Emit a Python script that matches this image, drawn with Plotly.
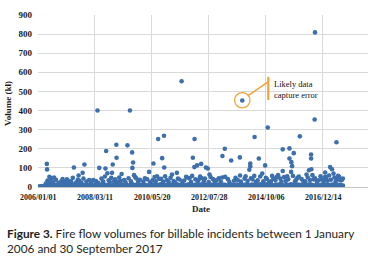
import plotly.graph_objects as go

# ---------------- data ----------------
years = [2006, 2007, 2008, 2009, 2010, 2011, 2012, 2013, 2014, 2015, 2016, 2017]

# dense band of everyday incidents, one low and one higher value per month
band_low = [
    1, 2, 1, 2, 3, 4, 2, 3, 5, 3, 2, 4,
    3, 5, 2, 4, 3, 2, 4, 5, 3, 2, 4, 3,
    4, 2, 3, 5, 3, 4, 2, 3, 4, 5, 3, 2,
    3, 4, 5, 2, 3, 4, 3, 5, 2, 4, 3, 4,
    2, 3, 4, 3, 5, 2, 4, 3, 3, 4, 2, 5,
    4, 3, 2, 4, 3, 5, 3, 2, 4, 3, 4, 2,
    3, 5, 4, 2, 3, 4, 5, 3, 2, 4, 3, 3,
    4, 2, 3, 5, 4, 3, 2, 4, 5, 3, 4, 2,
    3, 4, 2, 3, 5, 4, 3, 2, 4, 3, 5, 4,
    2, 3, 4, 5, 3, 2, 4, 3, 4, 5, 3, 2,
    4, 3, 5, 2, 3, 4, 3, 5, 2, 4, 3, 4,
    3, 2, 4, 3, 5, 4, 3, 2, 4,
]
band_high = [
    3, 4, 4, 6, 12, 10, 14, 9, 12, 8, 11, 13,
    10, 13, 8, 11, 14, 9, 12, 13, 8, 10, 13, 10,
    11, 8, 13, 10, 9, 14, 12, 10, 13, 8, 11, 13,
    9, 12, 14, 10, 13, 8, 11, 14, 10, 13, 9, 12,
    13, 10, 8, 13, 10, 14, 9, 12, 14, 10, 11, 8,
    10, 13, 11, 9, 13, 10, 14, 8, 12, 14, 10, 9,
    13, 9, 12, 14, 10, 11, 8, 13, 10, 9, 13, 12,
    10, 13, 10, 8, 14, 12, 9, 13, 11, 14, 10, 13,
    12, 8, 13, 10, 9, 13, 14, 10, 11, 14, 9, 12,
    9, 13, 11, 14, 10, 8, 13, 10, 14, 12, 9, 13,
    11, 10, 14, 9, 13, 14, 10, 8, 13, 10, 12, 14,
    10, 13, 9, 13, 11, 14, 10, 12, 8,
]
n_months = len(band_low)
band_low_dates = [f"{y}-{m:02d}-06" for y in years for m in range(1, 13)][:n_months]
band_high_dates = [f"{y}-{m:02d}-21" for y in years for m in range(1, 13)][:n_months]

# ragged top of the band (roughly 20-60 kl)
mid_dates = [
    "2006-04-20", "2006-05-15", "2006-06-20", "2006-07-10", "2006-08-02", "2006-09-10",
    "2006-10-18", "2006-11-25", "2006-12-12",
    "2007-01-15", "2007-02-22", "2007-03-18", "2007-04-10", "2007-05-05", "2007-06-22",
    "2007-07-14", "2007-08-05", "2007-09-03", "2007-10-01", "2007-11-12", "2007-12-20",
    "2008-01-20", "2008-02-15", "2008-03-25", "2008-04-28", "2008-06-10", "2008-07-05",
    "2008-07-28", "2008-09-20", "2008-10-05", "2008-10-25", "2008-12-05", "2008-12-18",
    "2009-01-25", "2009-02-14", "2009-03-05", "2009-04-25", "2009-05-15", "2009-06-25",
    "2009-07-28", "2009-09-25", "2009-10-12", "2009-11-08", "2009-12-01",
    "2010-01-20", "2010-02-10", "2010-03-15", "2010-04-25", "2010-05-28", "2010-06-25",
    "2010-07-12", "2010-08-28", "2010-09-25", "2010-10-22", "2010-11-20", "2010-12-15",
    "2011-01-10", "2011-02-05", "2011-03-20", "2011-04-12", "2011-05-20", "2011-06-10",
    "2011-07-22", "2011-08-15", "2011-09-25", "2011-10-28", "2011-11-20", "2011-12-05",
    "2012-01-20", "2012-02-25", "2012-03-05", "2012-03-25", "2012-05-18", "2012-06-02",
    "2012-07-25", "2012-08-20", "2012-09-22", "2012-10-15", "2012-11-08", "2012-12-12",
    "2013-01-10", "2013-01-28", "2013-04-20", "2013-05-10", "2013-07-15", "2013-08-05",
    "2013-09-05", "2013-10-20", "2013-12-10", "2013-12-25",
    "2014-01-22", "2014-03-10", "2014-03-30", "2014-05-15", "2014-06-12", "2014-07-18",
    "2014-08-30", "2014-10-05", "2014-10-20", "2014-11-20", "2014-12-15",
    "2015-01-20", "2015-02-18", "2015-03-25", "2015-04-25", "2015-05-12", "2015-06-18",
    "2015-07-10", "2015-08-15", "2015-10-20", "2015-11-18", "2015-12-05", "2015-12-22",
    "2016-01-10", "2016-02-20", "2016-03-15", "2016-04-10", "2016-05-15", "2016-06-15",
    "2016-07-20", "2016-08-05", "2016-08-25", "2016-09-20", "2016-10-15", "2016-11-10",
    "2016-12-01", "2016-12-25",
    "2017-01-28", "2017-02-15", "2017-03-10", "2017-04-05", "2017-05-25", "2017-06-10",
    "2017-06-25", "2017-07-15", "2017-08-12", "2017-09-05", "2017-09-20",
]
mid_vols = [
    18, 34, 28, 45, 24, 38, 22, 30, 41,
    26, 35, 20, 30, 48, 25, 38, 33, 22, 44, 29, 36,
    24, 36, 31, 22, 44, 28, 55, 35, 26, 48, 30, 40,
    27, 50, 33, 37, 24, 46, 30, 52, 45, 28, 38,
    29, 46, 40, 24, 35, 52, 30, 42, 43, 28, 56, 36,
    26, 48, 31, 24, 44, 39, 28, 34, 50, 45, 26, 58,
    40, 32, 38, 55, 30, 44, 26, 52, 42, 28, 35, 46,
    29, 50, 41, 26, 33, 48, 37, 28, 44, 56,
    31, 46, 40, 26, 35, 55, 30, 48, 42, 26, 30,
    44, 36, 62, 44, 28, 52, 32, 40, 58, 30, 38, 48,
    55, 41, 28, 30, 50, 36, 62, 40, 45, 28, 35, 56,
    40, 30,
    46, 33, 60, 38, 50, 28, 42, 58, 35, 36, 44,
]

# isolated larger incidents
high_dates = [
    "2006-05-05", "2006-05-08", "2006-06-10", "2006-08-15", "2007-02-10", "2007-05-20",
    "2007-07-25", "2007-09-20", "2007-10-15", "2008-04-15", "2008-05-10", "2008-08-05",
    "2008-08-15", "2008-09-01", "2008-11-05", "2008-11-15", "2009-01-05", "2009-01-08",
    "2009-03-20", "2009-06-10", "2009-07-15", "2009-08-15", "2009-08-28", "2009-08-18",
    "2009-09-10", "2010-04-10", "2010-06-10", "2010-07-30", "2010-08-15", "2010-10-10",
    "2010-11-05", "2010-11-08", "2011-02-25", "2011-05-05", "2011-07-10", "2011-09-12",
    "2011-12-15", "2012-01-05", "2012-01-08", "2012-02-12", "2012-04-10", "2012-04-12",
    "2012-06-15", "2012-07-12", "2012-08-05", "2013-02-02", "2013-03-08", "2013-03-12",
    "2013-06-05", "2013-10-05", "2013-10-08", "2013-11-08", "2014-02-15", "2014-02-28",
    "2014-02-28", "2014-04-25", "2014-04-30", "2014-06-28", "2014-08-15", "2014-09-25",
    "2014-11-01", "2015-01-01", "2015-03-08", "2015-05-30", "2015-05-30", "2015-08-01",
    "2015-09-01", "2015-09-01", "2015-09-25", "2015-09-28", "2015-10-08", "2015-11-01",
    "2016-01-25", "2016-04-28", "2016-06-01", "2016-07-01", "2016-07-01", "2016-07-05",
    "2016-08-20", "2016-08-25", "2017-01-15", "2017-01-15", "2017-03-25", "2017-04-20",
    "2017-05-12", "2017-06-22", "2017-07-30",
]
high_vols = [
    121, 92, 53, 50, 40, 102, 60, 74, 118, 400, 100, 97, 188, 72, 74, 118, 221, 153,
    68, 218, 400, 181, 128, 100, 62, 79, 123, 56, 251, 151, 268, 102, 65, 74, 553, 53,
    153, 104, 251, 113, 121, 47, 102, 97, 65, 162, 200, 53, 139, 155, 60, 453, 90, 109,
    123, 58, 262, 149, 70, 113, 311, 58, 53, 197, 84, 56, 202, 149, 79, 130, 109, 177,
    265, 65, 88, 170, 149, 93, 353, 809, 76, 53, 104, 93, 70, 234, 53,
]

flag_date = "2013-11-08"
flag_value = 453

y_ticks = [0, 100, 200, 300, 400, 500, 600, 700, 800, 900]
x_tick_dates = ["2006-01-01", "2008-03-11", "2010-05-20", "2012-07-28", "2014-10-06", "2016-12-14"]
x_tick_labels = ["2006/01/01", "2008/03/11", "2010/05/20", "2012/07/28", "2014/10/06", "2016/12/14"]

# ---------------- figure ----------------
all_dates = band_low_dates + band_high_dates + mid_dates + high_dates
all_vols = band_low + band_high + mid_vols + high_vols

blue = "#3c6fab"
orange = "#f2a33a"
serif = "Liberation Serif"
tick_font = dict(family=serif, size=8, color="#1a1a1a", weight="bold")

fig = go.Figure()
fig.add_trace(go.Scatter(
    x=all_dates, y=all_vols, mode="markers",
    marker=dict(size=4.6, color=blue, line=dict(width=0)),
    showlegend=False, hoverinfo="skip",
))

W, H = 368, 259
L, R, T, B = 38, 0, 15, 72

fig.update_layout(
    width=W, height=H,
    margin=dict(l=L, r=R, t=T, b=B, pad=0),
    paper_bgcolor="white", plot_bgcolor="white",
    showlegend=False,
    xaxis=dict(
        type="date",
        range=["2006-01-01", "2018-09-08"],
        tickvals=x_tick_dates,
        showticklabels=False,
        showgrid=True, gridcolor="#d9d9d9", gridwidth=1,
        showline=True, linecolor="#c4c4c4", linewidth=1.3,
        zeroline=False, ticks="",
    ),
    yaxis=dict(
        range=[0, 900], tickvals=y_ticks,
        showgrid=True, gridcolor="#d9d9d9", gridwidth=1,
        showline=False, zeroline=False, ticks="",
        tickfont=dict(family=serif, size=9, color="#1a1a1a", weight="bold"),
        ticklabelstandoff=5,
    ),
)

plot_w = W - L - R
plot_h = H - T - B


def px_x(x):
    return (x - L) / plot_w


def px_y(y):
    return (H - B - y) / plot_h


# x tick labels: first one sits on the left edge of the plot, the rest at their dates
fig.add_annotation(x=0, y=0, xref="paper", yref="paper", text=x_tick_labels[0],
                   showarrow=False, xanchor="center", yanchor="middle", yshift=-10,
                   font=tick_font)
for d, lab in zip(x_tick_dates[1:], x_tick_labels[1:]):
    fig.add_annotation(x=d, y=0, xref="x", yref="paper", text=lab, showarrow=False,
                       xanchor="center", yanchor="middle", yshift=-10,
                       font=tick_font)

# circle + leader around suspicious point
fig.add_shape(type="circle", xref="x", yref="y", xsizemode="pixel", ysizemode="pixel",
              xanchor=flag_date, yanchor=flag_value,
              x0=-7.7, x1=7.7, y0=-7.5, y1=7.9,
              line=dict(color=orange, width=1.3))
fig.add_shape(type="line", xref="x", yref="y", xsizemode="pixel", ysizemode="pixel",
              xanchor=flag_date, yanchor=flag_value,
              x0=5.5, x1=25, y0=4.5, y1=18,
              line=dict(color=orange, width=1.6))
fig.add_shape(type="line", xref="x", yref="y", xsizemode="pixel", ysizemode="pixel",
              xanchor=flag_date, yanchor=flag_value,
              x0=26, x1=26, y0=0.5, y1=23.5,
              line=dict(color=orange, width=2.2))
fig.add_annotation(x=flag_date, y=flag_value, xref="x", yref="y",
                   text="Likely data<br>capture error", showarrow=False,
                   xanchor="left", yanchor="middle", align="left",
                   xshift=30, yshift=11,
                   font=dict(family=serif, size=8.5, color="#111111"))

# axis titles
fig.add_annotation(x=px_x(8), y=px_y(104), xref="paper", yref="paper",
                   text="Volume (kl)", textangle=-90, showarrow=False,
                   xanchor="center", yanchor="middle",
                   font=dict(family=serif, size=9, color="#1a1a1a", weight="bold"))
fig.add_annotation(x=px_x(201), y=px_y(209), xref="paper", yref="paper",
                   text="Date", showarrow=False, xanchor="center", yanchor="middle",
                   font=dict(family=serif, size=9, color="#1a1a1a", weight="bold"))

# caption
cap_font = dict(family="Lato", size=11.8, color="#231f20")
fig.add_annotation(x=px_x(5), y=px_y(233), xref="paper", yref="paper",
                   text="<b>Figure 3.</b> Fire flow volumes for billable incidents between 1 January",
                   showarrow=False, xanchor="left", yanchor="middle", font=cap_font)
fig.add_annotation(x=px_x(5), y=px_y(248), xref="paper", yref="paper",
                   text="2006 and 30 September 2017",
                   showarrow=False, xanchor="left", yanchor="middle", font=cap_font)

fig.write_html("out.html", config={"displayModeBar": False},
               post_script="document.body.style.margin='0';")
